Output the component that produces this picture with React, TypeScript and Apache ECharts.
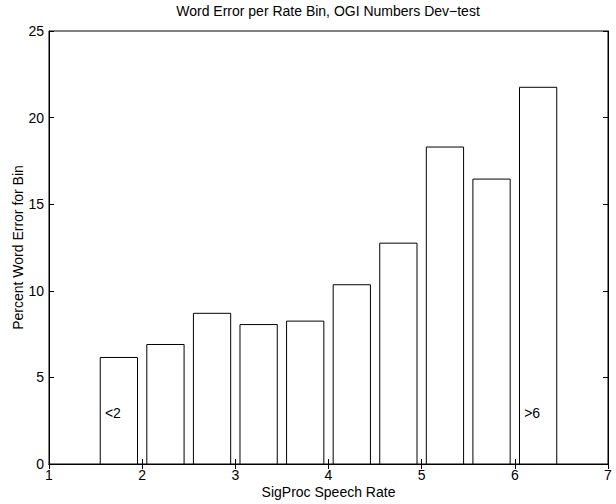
import React, { useEffect, useRef } from "react";
import * as echarts from "echarts";

const binCenters = [1.75, 2.25, 2.75, 3.25, 3.75, 4.25, 4.75, 5.25, 5.75, 6.25];
const wordError = [6.15, 6.9, 8.7, 8.05, 8.25, 10.35, 12.75, 18.3, 16.45, 21.75];
const binWidth = 0.4;
const annotations: [number, number, string][] = [
  [1.6, 2.95, "<2"],
  [6.1, 2.95, ">6"],
];
const FONT = "Liberation Sans, Arial, Helvetica, sans-serif";
const FS = 14;

export default function App() {
  const ref = useRef<HTMLDivElement>(null);
  useEffect(() => {
    if (!ref.current) return;
    const chart = echarts.init(ref.current, null, { renderer: "svg" });
    const tickStyle = { show: true, inside: true, length: 5, lineStyle: { color: "#000", width: 1 } };
    const lineStyle = { show: true, lineStyle: { color: "#000", width: 1 } };
    chart.setOption({
      animation: false,
      backgroundColor: "#fff",
      textStyle: { fontFamily: FONT },
      title: {
        text: "Word Error per Rate Bin, OGI Numbers Dev\u2212test",
        left: 328,
        top: 4,
        padding: 0,
        textAlign: "center",
        textStyle: { fontSize: FS, fontWeight: "normal", color: "#000", fontFamily: FONT },
      },
      grid: {
        left: 49,
        right: 8,
        top: 31,
        bottom: 40,
        show: true,
        borderColor: "#000",
        borderWidth: 1,
        containLabel: false,
        outerBoundsMode: "none",
      },
      xAxis: [
        {
          type: "value",
          min: 1,
          max: 7,
          interval: 1,
          name: "SigProc Speech Rate",
          nameLocation: "middle",
          nameGap: 21,
          nameMoveOverlap: false,
          nameTextStyle: { fontSize: FS, color: "#000", fontFamily: FONT },
          axisLine: lineStyle,
          axisTick: tickStyle,
          splitLine: { show: false },
          axisLabel: { color: "#000", fontSize: FS, margin: 4, fontFamily: FONT },
        },
        {
          type: "value",
          position: "top",
          min: 1,
          max: 7,
          interval: 1,
          axisLine: lineStyle,
          axisTick: tickStyle,
          splitLine: { show: false },
          axisLabel: { show: false },
        },
      ],
      yAxis: [
        {
          type: "value",
          min: 0,
          max: 25,
          interval: 5,
          name: "Percent Word Error for Bin",
          nameLocation: "middle",
          nameGap: 24,
          nameMoveOverlap: false,
          nameTextStyle: { fontSize: FS, color: "#000", fontFamily: FONT },
          axisLine: lineStyle,
          axisTick: tickStyle,
          splitLine: { show: false },
          axisLabel: { color: "#000", fontSize: FS, margin: 5, fontFamily: FONT },
        },
        {
          type: "value",
          position: "right",
          min: 0,
          max: 25,
          interval: 5,
          axisLine: lineStyle,
          axisTick: tickStyle,
          splitLine: { show: false },
          axisLabel: { show: false },
        },
      ],
      series: [
        {
          type: "custom",
          xAxisIndex: 0,
          yAxisIndex: 0,
          data: binCenters.map((c, i) => [c, wordError[i]]),
          renderItem: (params: any, api: any) => {
            const c = api.value(0);
            const v = api.value(1);
            const p0 = api.coord([c - binWidth / 2, v]);
            const p1 = api.coord([c + binWidth / 2, 0]);
            return {
              type: "rect",
              shape: { x: p0[0], y: p0[1], width: p1[0] - p0[0], height: p1[1] - p0[1] },
              style: { fill: "#fff", stroke: "#000", lineWidth: 1 },
            };
          },
        },
        {
          type: "custom",
          xAxisIndex: 0,
          yAxisIndex: 0,
          data: annotations,
          renderItem: (params: any, api: any) => {
            const p = api.coord([api.value(0), api.value(1)]);
            return {
              type: "text",
              x: p[0],
              y: p[1],
              style: {
                text: annotations[params.dataIndex][2],
                fill: "#000",
                fontSize: FS,
                fontFamily: FONT,
                align: "left",
                verticalAlign: "middle",
              },
            };
          },
        },
      ],
    });
    return () => chart.dispose();
  }, []);
  return <div ref={ref} style={{ position: "absolute", left: 0, top: 0, width: 616, height: 504 }} />;
}
